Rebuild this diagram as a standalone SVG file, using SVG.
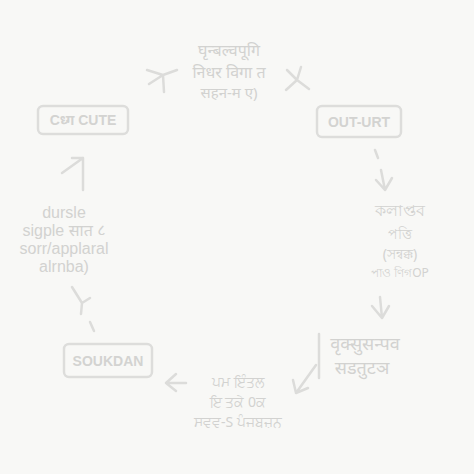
<svg xmlns="http://www.w3.org/2000/svg" width="474" height="474" viewBox="0 0 474 474">
<style>
.bg{fill:#f8f8f6}
.box{fill:none;stroke:#dddddb;stroke-width:2.5}
.lbl{font-family:"Liberation Sans","Noto Sans",sans-serif;font-size:14px;font-weight:bold;fill:#d3d3d1;text-anchor:middle}
.t{font-family:"Noto Sans","Noto Sans CJK SC",sans-serif;font-size:15px;fill:#d2d2d0;text-anchor:middle}
.l{font-family:"Liberation Sans","Noto Sans",sans-serif;font-size:16px;fill:#d2d2d0;text-anchor:middle}
.arr{fill:none;stroke:#dcdcda;stroke-width:2.5;stroke-linecap:round;stroke-linejoin:round}
</style>
<rect class="bg" x="0" y="0" width="474" height="474"/>
<g id="node-cute">
<rect class="box" x="38" y="106" width="90" height="28" rx="5"/>
<text class="lbl" x="83" y="125">Cध्ग CUTE</text>
</g>
<g id="node-output">
<rect class="box" x="317" y="106" width="84" height="31" rx="5"/>
<text class="lbl" x="359" y="127">OUT-URT</text>
</g>
<g id="node-soukdan">
<rect class="box" x="64" y="344" width="88" height="33" rx="5"/>
<text class="lbl" x="108" y="366">SOUKDAN</text>
</g>
<g id="text-top">
<text class="t" x="229" y="56" style="font-size:16px">घृन्बल्वपूगि</text>
<text class="t" x="229" y="78" style="font-size:16px">निधर विगा त</text>
<text class="t" x="229" y="98">सहन-म ए)</text>
</g>
<g id="text-right">
<text class="t" x="400" y="216" style="font-size:16px">কলাপ্তব</text>
<text class="t" x="400" y="239" style="font-size:14px">পত্তি</text>
<text class="t" x="400" y="259" style="font-size:14px">(সন্বক্ক)</text>
<text class="t" x="400" y="277" style="font-size:12px">পাও ণিগOP</text>
</g>
<g id="text-left">
<text class="l" x="64" y="218">dursle</text>
<text class="l" x="64" y="236">sigple सात ८</text>
<text class="l" x="64" y="254">sorr/applaral</text>
<text class="l" x="64" y="272">alrnba)</text>
</g>
<g id="text-bottom-right">
<line class="arr" x1="319" y1="334" x2="319" y2="378"/>
<text class="t" x="365" y="350" style="font-size:18px">वृक्सुसन्पव</text>
<text class="t" x="362" y="374" style="font-size:18px">सडतुटञ</text>
</g>
<g id="text-bottom">
<text class="t" x="238" y="387" style="font-size:14px">ਪਮ ਇੰਤਲ</text>
<text class="t" x="238" y="407" style="font-size:14px">ਇ ਤਕੇ 0ਕ</text>
<text class="t" x="238" y="427" style="font-size:14px">ਸਵਵ-S ਪੰਜਬਜ਼ਨ</text>
</g>
<g id="connectors">
<path class="arr" d="M147 70 L163 75 L177 70 M163 75 L149 84 M163 75 L164 92"/>
<path class="arr" d="M287 70 L297 80 L309 89 M297 80 L286 90 M297 80 L301 67"/>
<path class="arr" d="M375 150 L378 158 M381 170 L385 190 M376 180 L385 190 L392 178"/>
<path class="arr" d="M380 297 L382 318 M372 306 L382 318 L389 306"/>
<path class="arr" d="M316 365 L296 393 M293 380 L296 393 L308 388"/>
<path class="arr" d="M186 383 L166 383 M176 374 L166 383 L176 391"/>
<path class="arr" d="M94 331 L90 322 M72 287 L82 303 L90 298 M82 303 L81 314"/>
<path class="arr" d="M62 173 L83 158 L83 190 M83 158 L72 158"/>
</g>
</svg>
